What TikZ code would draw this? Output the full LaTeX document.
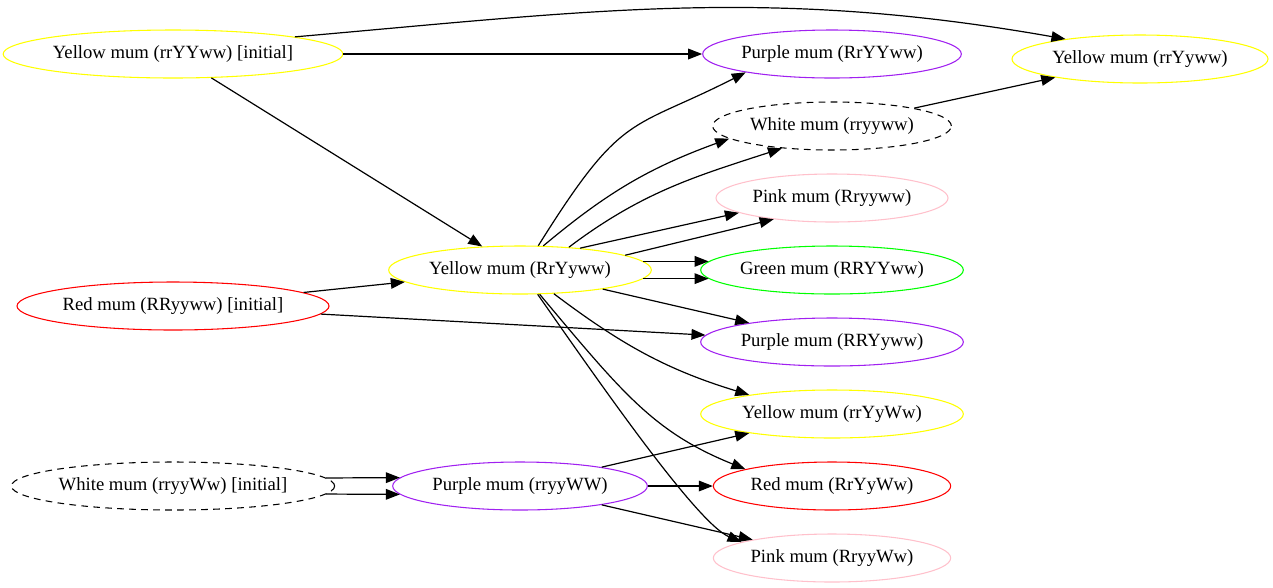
\documentclass[tikz,border=0pt]{standalone}
\usepackage{fontspec}
\setmainfont{Liberation Serif}
\usepackage{tikz}
\usetikzlibrary{shapes.geometric, arrows.meta}
\definecolor{mumyellow}{HTML}{FFFF00}
\definecolor{mumred}{HTML}{FF0000}
\definecolor{mumgreen}{HTML}{00FF00}
\definecolor{mumpurple}{HTML}{A020F0}
\definecolor{mumpink}{HTML}{FFC0CB}
\tikzstyle{mum} = [ellipse, draw, line width=0.8pt, inner sep=0pt, minimum height=36pt, font=\fontsize{14}{16}\selectfont]
\tikzstyle{dashedmum} = [mum, dash pattern=on 5pt off 4pt]
\tikzstyle{arrow} = [line width=0.9pt, -{Triangle[length=10.5pt,width=8pt]}]

\begin{document}
\begin{tikzpicture}[x=0.75pt,y=0.75pt]
\useasboundingbox (0,0) rectangle (1273,-587);

%initial mums
\node[mum, draw=mumyellow, minimum width=252pt] (yinit) at (173,-54) {Yellow mum (rrYYww) [initial]};
\node[mum, draw=mumred, minimum width=234pt] (rinit) at (173,-306) {Red mum (RRyyww) [initial]};
\node[dashedmum, minimum width=239pt] (winit) at (173,-486) {White mum (rryyWw) [initial]};

\node[mum, draw=mumyellow, minimum width=197pt] (ymid) at (520,-270) {Yellow mum (RrYyww)};
\node[mum, draw=mumpurple, minimum width=191pt] (pmid) at (520,-486) {Purple mum (rryyWW)};

%offspring
\node[mum, draw=mumpurple, minimum width=194pt] (p1) at (832,-54) {Purple mum (RrYYww)};
\node[dashedmum, minimum width=179pt] (w1) at (832,-126) {White mum (rryyww)};
\node[mum, draw=mumpink, minimum width=174pt] (pk1) at (832,-198) {Pink mum (Rryyww)};
\node[mum, draw=mumgreen, minimum width=197pt] (g1) at (832,-270) {Green mum (RRYYww)};
\node[mum, draw=mumpurple, minimum width=197pt] (p2) at (832,-342) {Purple mum (RRYyww)};
\node[mum, draw=mumyellow, minimum width=197pt] (y2) at (832,-414) {Yellow mum (rrYyWw)};
\node[mum, draw=mumred, minimum width=178pt] (r1) at (832,-486) {Red mum (RrYyWw)};
\node[mum, draw=mumpink, minimum width=178pt] (pk2) at (832,-558) {Pink mum (RryyWw)};
\node[mum, draw=mumyellow, minimum width=192pt] (yfar) at (1140,-59) {Yellow mum (rrYyww)};

\draw[arrow] (yinit) -- (p1);
\draw[arrow] (yinit.8) to[out=5,in=170] (yfar.165);
\draw[arrow] (yinit) -- (ymid);
\draw[arrow] (rinit) -- (ymid);
\draw[arrow] (rinit) -- (p2);
\draw[arrow] (winit.3) -- (pmid.176);
\draw[arrow] (winit.-3) -- (pmid.184);

\draw[arrow] (ymid.53) .. controls +(58:160) and +(207:130) .. (p1.192);
\draw[arrow] (ymid.46) to[out=40,in=200] (w1.187);
\draw[arrow] (ymid.25) to[out=37,in=198] (w1.204);
\draw[arrow] (ymid.20) -- (pk1.189);
\draw[arrow] (ymid.8) -- (pk1.200);
\draw[arrow] (ymid.4) -- (g1.176);
\draw[arrow] (ymid.-4) -- (g1.184);
\draw[arrow] (ymid) -- (p2);
\draw[arrow] (ymid.-35) to[out=-37,in=163] (y2.167);
\draw[arrow] (ymid.-51) .. controls +(-50:129) and +(158:99) .. (r1.169);
\draw[arrow] (ymid.-54) .. controls +(-55:101) and +(157:49) .. (pk2.170);

\draw[arrow] (w1) -- (yfar);
\draw[arrow] (pmid) -- (y2);
\draw[arrow] (pmid) -- (r1);
\draw[arrow] (pmid) -- (pk2);

\end{tikzpicture}
\end{document}
